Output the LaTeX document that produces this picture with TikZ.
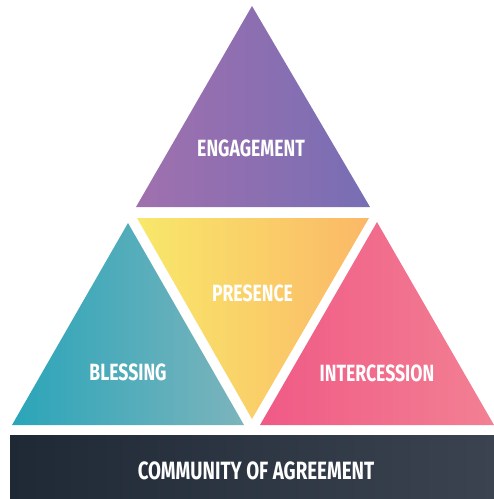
\documentclass[tikz,border=0pt]{standalone}
\usepackage{fontspec}
\newfontfamily\labelfont[FakeStretch=0.75]{Fira Sans}
\definecolor{engL}{RGB}{160,112,174}
\definecolor{engR}{RGB}{120,110,180}
\definecolor{blsL}{RGB}{42,165,185}
\definecolor{blsR}{RGB}{124,180,188}
\definecolor{preL}{RGB}{248,232,106}
\definecolor{preR}{RGB}{251,184,103}
\definecolor{intL}{RGB}{240,90,134}
\definecolor{intR}{RGB}{242,128,147}
\definecolor{barL}{RGB}{31,41,53}
\definecolor{barR}{RGB}{59,67,80}

\begin{document}
\begin{tikzpicture}[x=1pt, y=-1pt,
  tlabel/.style={text=white, inner sep=0pt, font=\labelfont\bfseries\fontsize{23.5}{24}\selectfont},
  blabel/.style={tlabel, font=\labelfont\bfseries\fontsize{25}{25}\selectfont}]
\useasboundingbox (0,0) rectangle (494,499);

% triangles
\shade[left color=engL, right color=engR] (252,6) -- (370,207) -- (136,207) -- cycle;
\shade[left color=blsL, right color=blsR] (128,223) -- (244,425) -- (12,425) -- cycle;
\shade[left color=preL, right color=preR] (137,218) -- (369,218) -- (252,419) -- cycle;
\shade[left color=intL, right color=intR] (377,222) -- (494,425) -- (260,425) -- cycle;

% base
\shade[left color=barL, right color=barR] (10,435) rectangle (494,499);

\node[tlabel] (engagement) at (251,148.5) {ENGAGEMENT};
\node[tlabel] (presence) at (252.5,293.5) {PRESENCE};
\node[tlabel] (blessing) at (128,372) {BLESSING};
\node[tlabel] (intercession) at (377,373) {INTERCESSION};
\node[blabel] (community) at (256,470.5) {COMMUNITY OF AGREEMENT};

\end{tikzpicture}
\end{document}
